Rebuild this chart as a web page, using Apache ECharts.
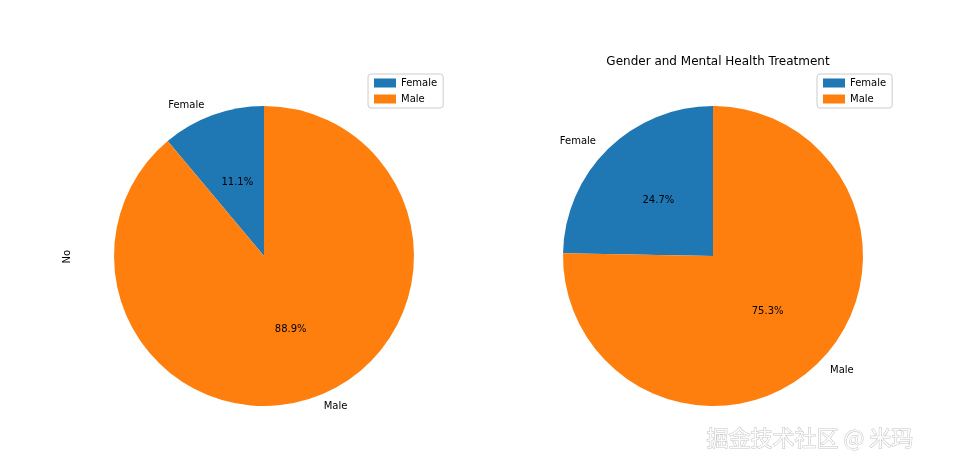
<!DOCTYPE html>
<html><head><meta charset="utf-8">
<script src="https://cdn.jsdelivr.net/npm/echarts@6/dist/echarts.min.js"></script>
<style>html,body{margin:0;background:#fff}#c{width:958px;height:472px}</style>
</head><body><div id="c"></div>
<script>
// 数据
const genders = ['Female', 'Male']
const leftValues = [11.1, 88.9]   // treatment = No
const rightValues = [24.7, 75.3]  // treatment = Yes
const colors = ['#1f77b4', '#ff7f0e']
const font = 'DejaVu Sans'

const toData = (vals) => genders.map((g, i) => ({ name: g, value: vals[i] }))

// 一个饼图需要两层：外面是名称，里面是百分比
const pieSeries = (center, vals) => {
  let base = {
    type: 'pie',
    radius: 150,
    center: center,
    clockwise: false,
    startAngle: 90,
    data: toData(vals),
    animation: false,
    emphasis: { disabled: true },
    itemStyle: { borderWidth: 0 }
  }
  return [
    Object.assign({}, base, {
      label: { show: true, position: 'outside', color: '#000', fontSize: 10, fontFamily: font, formatter: '{b}' },
      labelLine: { show: false, length: 10, length2: 0 }
    }),
    Object.assign({}, base, {
      silent: true,
      itemStyle: { color: 'transparent' },
      label: { show: true, position: 'inside', color: '#000', fontSize: 10, fontFamily: font, formatter: (p) => p.value.toFixed(1) + '%' },
      labelLine: { show: false }
    })
  ]
}

const legendBox = (left) => ({
  data: genders,
  left: left, top: 74, orient: 'vertical',
  itemWidth: 22, itemHeight: 9, itemGap: 6,
  borderColor: '#ccc', borderWidth: 1, borderRadius: 3, padding: [4, 6],
  textStyle: { fontSize: 10, fontFamily: font, color: '#000' },
  selectedMode: false,
  icon: 'rect'
})

let chart = echarts.init(document.getElementById('c'))
chart.setOption({
  color: colors,
  animation: false,
  title: {
    text: 'Gender and Mental Health Treatment',
    left: 713, top: 51, textAlign: 'center',
    textStyle: { fontSize: 12, fontWeight: 'normal', fontFamily: font, color: '#000' }
  },
  legend: [legendBox(368), legendBox(817)],
  graphic: [
    { type: 'text', left: 62, top: 250, rotation: Math.PI / 2,
      style: { text: 'No', fontSize: 10, fontFamily: font, fill: '#000' } },
    { type: 'text', left: 706, top: 426,
      style: { text: '掘金技术社区 @ 米玛', fontSize: 22, fontFamily: 'Noto Sans CJK SC', fill: 'rgba(255,255,255,0.9)', stroke: 'rgba(0,0,0,0.25)', lineWidth: 1 } }
  ],
  series: [...pieSeries([264, 256], leftValues), ...pieSeries([713, 256], rightValues)]
})
</script>
</body></html>
